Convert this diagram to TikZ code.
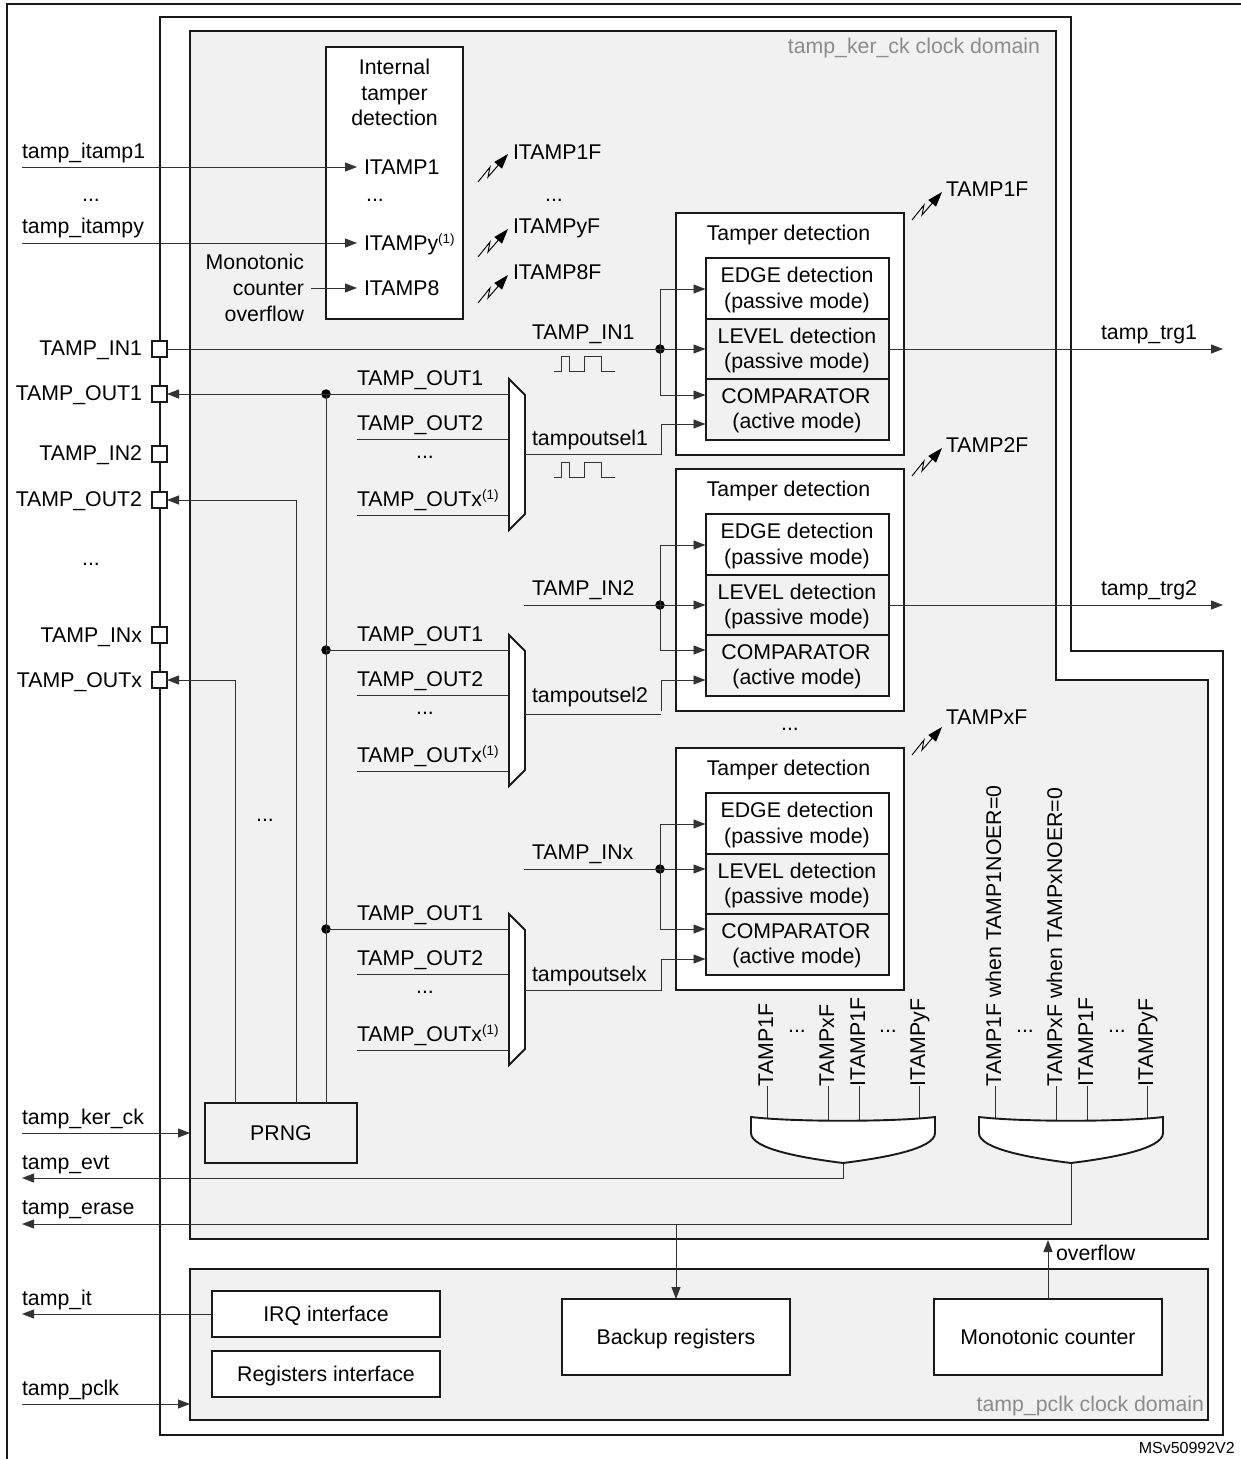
\documentclass[tikz,border=0pt]{standalone}
\usepackage{fontspec}
\setmainfont{Liberation Sans}
\usetikzlibrary{arrows.meta,calc}
\definecolor{dom}{HTML}{F1F1F1}
\definecolor{domtxt}{HTML}{8C8C8C}
\tikzset{
  frame/.style={draw=black!90,line width=1.9pt,line join=miter},
  sig/.style={draw=black!80,line width=0.95pt},
  tip/.style={-{Triangle[length=12pt,width=9pt]}},
  box/.style={frame,fill=white,inner sep=0pt,outer sep=0pt,align=center,font=\mainfs},
  gbox/.style={box,fill=dom},
  capt/.style={text height=15.2pt,text depth=0pt},
  lab/.style={inner sep=0pt,outer sep=0pt,font=\mainfs,capt},
  dotn/.style={circle,fill=black,inner sep=0pt,outer sep=0pt,minimum size=9.5pt},
  pad/.style={draw=black!90,line width=1.7pt,fill=white,inner sep=0pt,outer sep=0pt,minimum width=15pt,minimum height=16pt},
  vlab/.style={lab,rotate=90,anchor=west},
}
\newcommand{\mainfs}{\fontsize{21.3}{25.6}\selectfont}
\newcommand{\supone}{\raisebox{7.5pt}{\fontsize{13.5}{14}\selectfont (1)}}
% lightning: name, tip x, tip y
\newcommand{\flash}[3]{%
  \coordinate (#1) at (#2,#3);
  \draw[draw=black,line width=0.95pt,-{Triangle[length=15pt,width=10pt]}] ($(#1)+(-30,28)$) -- ($(#1)+(-18,13)$) -- ($(#1)+(-20,23)$) -- (#1);
}
% waveform: name, bottom y
\newcommand{\wave}[2]{%
  \coordinate (#1) at (554,#2);
  \draw[sig] (#1) -- ++(7,0) -- ++(0,-15) -- ++(8,0) -- ++(0,15) -- ++(15,0) -- ++(0,-15) -- ++(17,0) -- ++(0,15) -- ++(14,0);
}
% tamper block: suffix, top y, edge arrow, level arrow, comp arrow, sel arrow
\newcommand{\tblock}[6]{%
  \node[box,minimum width=228pt,minimum height=242pt] (tb#1) at (790,#2+121) {};
  \node[lab] (tt#1) at (788.5,#2+20) {Tamper detection};
  \node[box,minimum width=183pt,minimum height=60.5pt] (edge#1) at (797.5,#2+75.5) {};
  \node[gbox,minimum width=183pt,minimum height=60.5pt] (lev#1) at (797.5,#2+136) {};
  \node[gbox,minimum width=183pt,minimum height=60.5pt] (cmp#1) at (797.5,#2+196.5) {};
  \node[lab] (e1#1) at (797,#2+62) {EDGE detection};
  \node[lab] (e2#1) at (797,#2+88) {(passive mode)};
  \node[lab] (l1#1) at (797,#2+123) {LEVEL detection};
  \node[lab] (l2#1) at (797,#2+148) {(passive mode)};
  \node[lab] (c1#1) at (796,#2+183) {COMPARATOR};
  \node[lab] (c2#1) at (797,#2+208) {(active mode)};
  \coordinate (eA#1) at (705.5,#3);
  \coordinate (lA#1) at (705.5,#4);
  \coordinate (cA#1) at (705.5,#5);
  \coordinate (sA#1) at (705.5,#6);
  \node[dotn] (dot#1) at (660,#4) {};
  \draw[sig,tip] (dot#1.center) |- (eA#1);
  \draw[sig,tip] (dot#1.center) -- (lA#1);
  \draw[sig,tip] (dot#1.center) |- (cA#1);
}
% mux: suffix, top y
\newcommand{\mux}[2]{%
  \node[lab,anchor=west] (lo1#1) at (357,#2-1) {TAMP\_OUT1};
  \node[lab,anchor=west] (lo2#1) at (357,#2+44) {TAMP\_OUT2};
  \node[lab] (ld#1) at (425,#2+72) {...};
  \node[lab,anchor=west] (lox#1) at (357,#2+120) {TAMP\_OUTx\supone};
  \coordinate (mi1#1) at (509,#2+15);
  \coordinate (mi2#1) at (509,#2+60);
  \coordinate (mix#1) at (509,#2+136);
  \coordinate (so2#1) at (357,#2+60);
  \coordinate (sox#1) at (357,#2+136);
  \draw[sig] (so2#1) -- (mi2#1);
  \draw[sig] (sox#1) -- (mix#1);
  \draw[frame,fill=white] (509,#2) -- (525,#2+16) -- (525,#2+135) -- (509,#2+151) -- cycle;
}
% OR gate: name, centre x
\newcommand{\gate}[2]{%
  \draw[frame,fill=white] (#2-92,1117) .. controls (#2-50,1122) and (#2+50,1122) .. (#2+92,1117)
     -- (#2+92,1133) .. controls (#2+92,1149) and (#2+40,1158) .. (#2,1163)
     .. controls (#2-40,1158) and (#2-92,1149) .. (#2-92,1133) -- cycle;
  \coordinate (#1) at (#2,1163);
}
% gate input: name, line x, text
\newcommand{\ginp}[3]{%
  \node[vlab] (vl#1) at (#2-1.5,1086) {#3};
  \coordinate (gi#1) at (#2,1121);
  \draw[sig] (gi#1) -- (gi#1 |- vl#1.west);
}
\begin{document}
\begin{tikzpicture}[x=1pt,y=-1pt]
\useasboundingbox (0,0) rectangle (1241,1459);
\fill[white] (0,0) rectangle (1241,1459);
% outer page frame
\coordinate (pgA) at (7,1459);
\coordinate (pgB) at (7,4);
\coordinate (pgC) at (1241,4);
\draw[frame] (pgA) -- (pgB) -- (pgC);
% chip frame
\draw[frame] (160,17) -- (1071,17) -- (1071,651) -- (1223,651) -- (1223,1435) -- (160,1435) -- cycle;
% clock domains
\draw[frame,fill=dom] (190,31) -- (1056,31) -- (1056,680) -- (1208,680) -- (1208,1239) -- (190,1239) -- cycle;
\node[box,fill=dom,minimum width=1018pt,minimum height=151pt] (pdom) at (699,1344.5) {};
\node[lab,anchor=east,text=domtxt] (kerlab) at (1040,46) {tamp\_ker\_ck clock domain};
\node[lab,anchor=east,text=domtxt] (pcllab) at (1204,1404) {tamp\_pclk clock domain};
% pads
\node[pad] (pIa) at (159.5,349) {};
\node[pad] (pOa) at (159.5,394) {};
\node[pad] (pIb) at (159.5,454) {};
\node[pad] (pOb) at (159.5,500) {};
\node[pad] (pIx) at (159.5,635) {};
\node[pad] (pOx) at (159.5,680) {};
\node[lab,anchor=east] (lIa) at (142,348) {TAMP\_IN1};
\node[lab,anchor=east] (lOa) at (142,393) {TAMP\_OUT1};
\node[lab,anchor=east] (lIb) at (142,453) {TAMP\_IN2};
\node[lab,anchor=east] (lOb) at (142,499) {TAMP\_OUT2};
\node[lab] (ldl) at (91,557.5) {...};
\node[lab,anchor=east] (lIx) at (142,635) {TAMP\_INx};
\node[lab,anchor=east] (lOx) at (142,680) {TAMP\_OUTx};
% internal tamper box
\node[box,minimum width=137pt,minimum height=272pt] (itb) at (394.5,183) {};
\node[lab] (it1) at (394.5,67) {Internal};
\node[lab] (it2) at (394.5,93) {tamper};
\node[lab] (it3) at (394.5,118) {detection};
\node[lab,anchor=west] (ia) at (364,167) {ITAMP1};
\node[lab] (idm) at (375,194) {...};
\node[lab,anchor=west] (iy) at (364,243) {ITAMPy\supone};
\node[lab,anchor=west] (i8) at (364,288) {ITAMP8};
\node[lab,anchor=east] (mo1) at (304,262) {Monotonic};
\node[lab,anchor=east] (mo2) at (304,288) {counter};
\node[lab,anchor=east] (mo3) at (304,314) {overflow};
\node[lab,anchor=west] (tia) at (22,151) {tamp\_itamp1};
\node[lab] (tid) at (91,194) {...};
\node[lab,anchor=west] (tiy) at (22,226) {tamp\_itampy};
\coordinate (tias) at (22,167);
\coordinate (tiys) at (22,243);
\coordinate (iaT) at (357,167);
\coordinate (iyT) at (357,243);
\coordinate (i8T) at (357,288);
\coordinate (mo2E) at (311,288);
\draw[sig,tip] (tias) -- (iaT);
\draw[sig,tip] (tiys) -- (iyT);
\draw[sig,tip] (mo2E) -- (i8T);
\flash{fia}{508}{154}
\flash{fiy}{508}{229}
\flash{fi8}{508}{275}
\node[lab,anchor=west] (nia) at (513,152) {ITAMP1F};
\node[lab] (nid) at (554,194) {...};
\node[lab,anchor=west] (niy) at (513,226) {ITAMPyF};
\node[lab,anchor=west] (ni8) at (513,272) {ITAMP8F};
% tamper blocks
\tblock{a}{213}{289}{349}{395}{424}
\tblock{b}{469}{545}{605}{650}{680}
\tblock{x}{748}{824}{869}{929}{959}
\node[lab] (tbdots) at (790,723) {...};
\flash{fta}{942}{192}
\flash{ftb}{942}{448}
\flash{ftx}{942}{727}
\node[lab,anchor=west] (nta) at (946,189) {TAMP1F};
\node[lab,anchor=west] (ntb) at (946,445) {TAMP2F};
\node[lab,anchor=west] (ntx) at (946,717) {TAMPxF};
% input lines
\node[lab,anchor=west] (lina) at (532,332) {TAMP\_IN1};
\node[lab,anchor=west] (linb) at (532,588) {TAMP\_IN2};
\node[lab,anchor=west] (linx) at (532,852) {TAMP\_INx};
\coordinate (inb) at (524,605);
\coordinate (inx) at (524,869);
\draw[sig] (pIa.east) -- (dota.center);
\draw[sig] (inb) -- (dotb.center);
\draw[sig] (inx) -- (dotx.center);
\wave{wa}{371}
\wave{wb}{477}
% muxes
\mux{a}{379}
\mux{b}{635}
\mux{x}{914}
\node[lab,anchor=west] (sela) at (532,438) {tampoutsel1};
\node[lab,anchor=west] (selb) at (532,695) {tampoutsel2};
\node[lab,anchor=west] (selx) at (532,974) {tampoutselx};
\coordinate (sa) at (525,454.5);
\coordinate (sb) at (525,714);
\coordinate (sx) at (525,990);
\coordinate (sbe) at (661,714);
\coordinate (sbv) at (661,711);
\draw[sig,tip] (sa) -| (661,424) -- (sAa);
\draw[sig] (sb) -- (sbe);
\draw[sig,tip] (sbv) |- (sAb);
\draw[sig,tip] (sx) -| (661,959) -- (sAx);
% outputs
\coordinate (tra) at (1223,349);
\coordinate (trb) at (1223,605);
\draw[sig,tip] (leva.east |- tra) -- (tra);
\draw[sig,tip] (levb.east |- trb) -- (trb);
\node[lab] (ltra) at (1149,332) {tamp\_trg1};
\node[lab] (ltrb) at (1149,588) {tamp\_trg2};
% PRNG
\node[gbox,capt,minimum width=152pt,minimum height=60pt] (prng) at (281,1133) {PRNG};
\coordinate (busT) at (326,1103);
\coordinate (o2B) at (296,1103);
\coordinate (oxB) at (235,1103);
\node[dotn] (ba) at (326,394) {};
\node[dotn] (bb) at (326,650) {};
\node[dotn] (bx) at (326,929) {};
\draw[sig] (busT) -- (ba.center);
\draw[sig,tip] (mi1a) -- (pOa.east);
\draw[sig] (bb.center) -- (mi1b);
\draw[sig] (bx.center) -- (mi1x);
\draw[sig,tip] (o2B) |- (pOb.east);
\draw[sig,tip] (oxB) |- (pOx.east);
\node[lab] (ldm) at (265,814) {...};
% gates
\ginp{aa}{767}{TAMP1F}
\ginp{ab}{828}{TAMPxF}
\ginp{ac}{859}{ITAMP1F}
\ginp{ad}{919}{ITAMPyF}
\ginp{ba}{995}{TAMP1F when TAMP1NOER=0}
\ginp{bb}{1056}{TAMPxF when TAMPxNOER=0}
\ginp{bc}{1087}{ITAMP1F}
\ginp{bd}{1147}{ITAMPyF}
\node[lab] (gd1) at (797,1024.5) {...};
\node[lab] (gd2) at (888,1024.5) {...};
\node[lab] (gd3) at (1025,1024.5) {...};
\node[lab] (gd4) at (1117,1024.5) {...};
\gate{goa}{843}
\gate{gob}{1071}
% left signals
\node[lab,anchor=west] (lker) at (22,1117) {tamp\_ker\_ck};
\node[lab,anchor=west] (levt) at (22,1162) {tamp\_evt};
\node[lab,anchor=west] (lera) at (22,1207) {tamp\_erase};
\node[lab,anchor=west] (lit) at (22,1298) {tamp\_it};
\node[lab,anchor=west] (lpc) at (22,1388) {tamp\_pclk};
\coordinate (kers) at (22,1133);
\coordinate (kert) at (190,1133);
\coordinate (evtt) at (22,1178);
\coordinate (erat) at (22,1224);
\coordinate (itt) at (22,1314);
\coordinate (pcs) at (22,1404);
\coordinate (pct) at (190,1404);
\draw[sig,tip] (kers) -- (kert);
\draw[sig,tip] (goa) |- (evtt);
\draw[sig,tip] (gob) |- (erat);
% lower boxes
\node[box,capt,minimum width=228pt,minimum height=46pt] (irq) at (326,1314) {IRQ interface};
\node[box,capt,minimum width=228pt,minimum height=46pt] (regs) at (326,1374) {Registers interface};
\node[box,capt,minimum width=228pt,minimum height=76pt] (bak) at (676,1337) {Backup registers};
\node[box,capt,minimum width=228pt,minimum height=76pt] (mon) at (1048,1337) {Monotonic counter};
\draw[sig,tip] (irq.west) -- (itt);
\draw[sig,tip] (pcs) -- (pct);
\coordinate (brk) at (676,1224);
\draw[sig,tip] (brk) -- (bak.north);
\coordinate (ovt) at (1048,1240);
\draw[sig,tip] (mon.north) -- (ovt);
\node[lab,anchor=west] (ovl) at (1056,1253) {overflow};
\node[inner sep=0pt,anchor=east,font=\fontsize{16}{18}\selectfont] (msv) at (1235,1448) {MSv50992V2};
\end{tikzpicture}
\end{document}
